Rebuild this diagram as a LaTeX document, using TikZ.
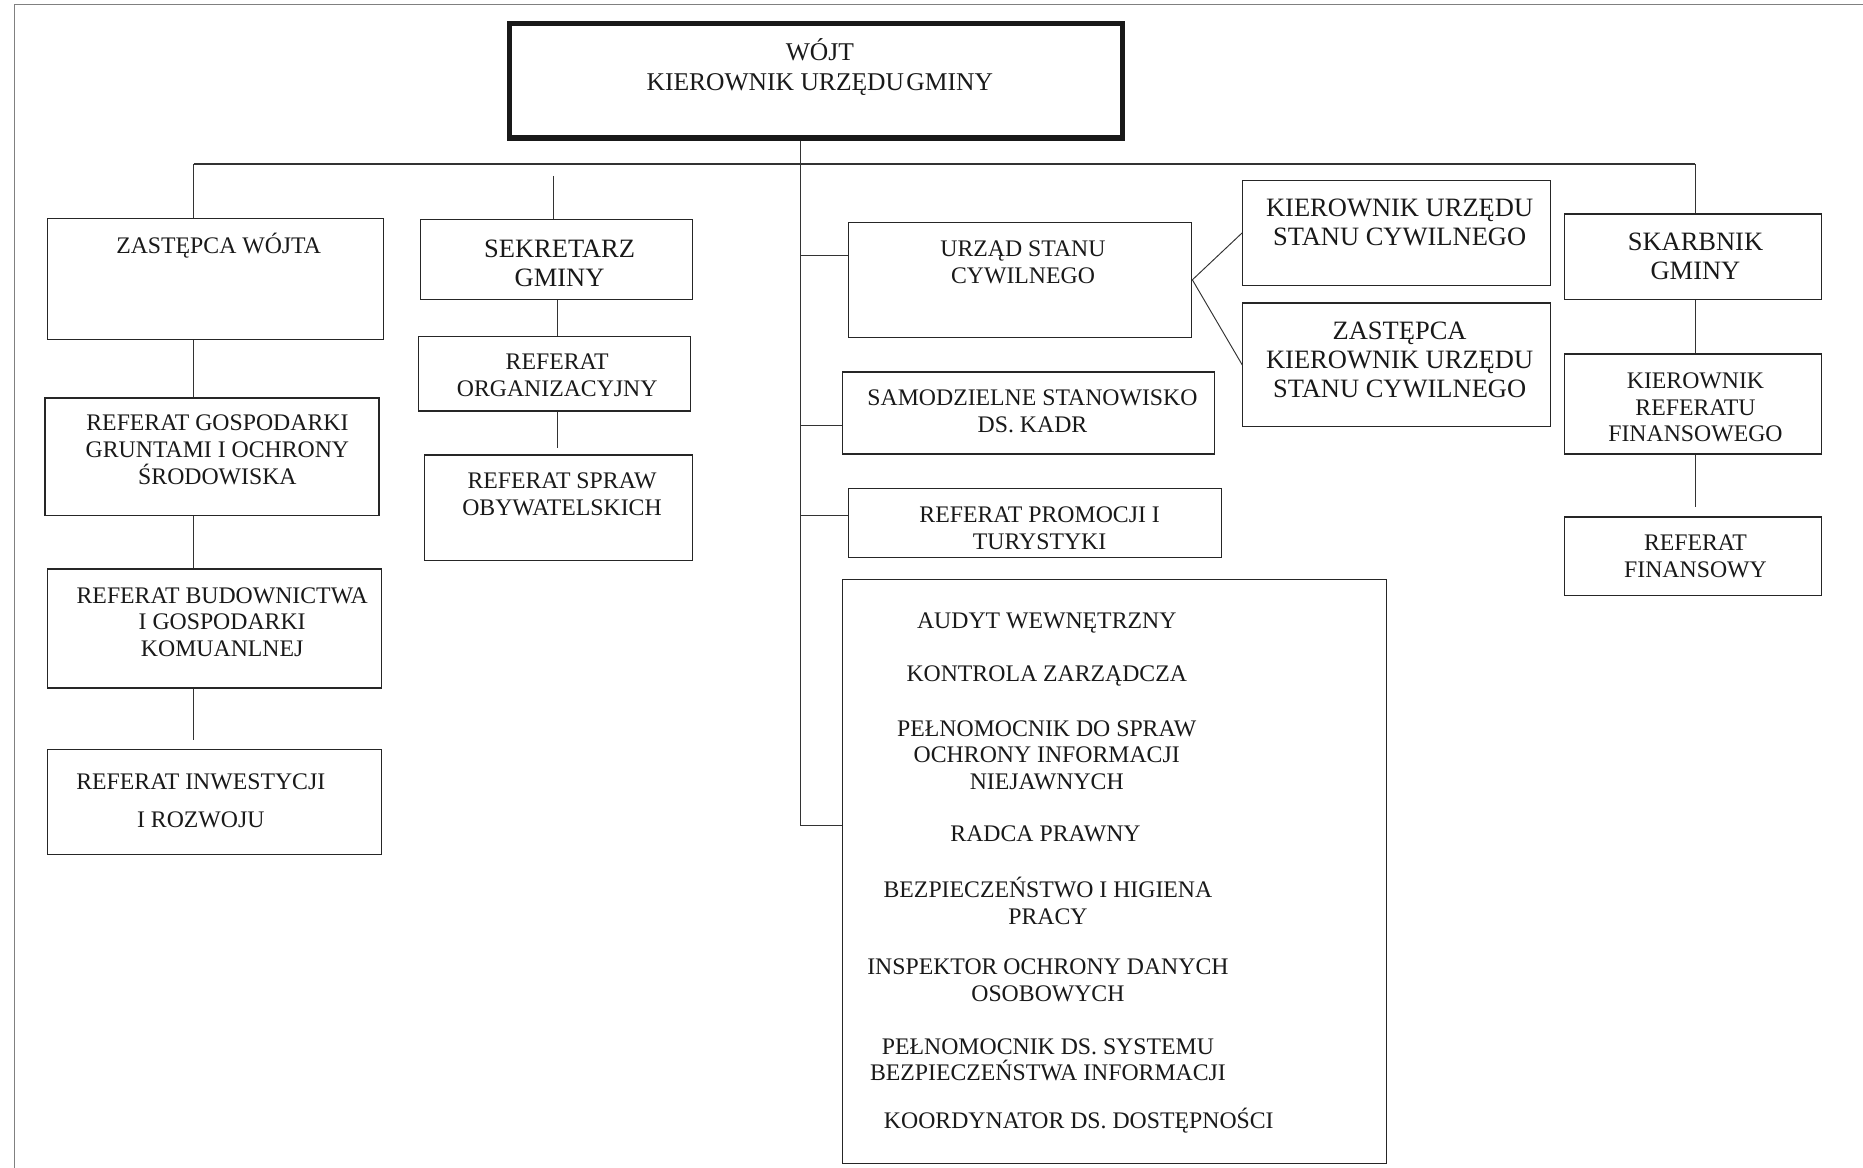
\documentclass[tikz,border=0pt]{standalone}
\usepackage{fontspec}
\setmainfont{Liberation Serif}
\begin{document}
\begin{tikzpicture}[x=1pt,y=-1pt,
  box/.style={draw=black!85, line width=1.1pt, inner sep=0pt},
  thickbox/.style={draw=black!90, line width=4.5pt, inner sep=0pt},
  conn/.style={draw=black!80, line width=1pt},
  frameline/.style={draw=black!50, line width=1.2pt},
  txt/.style={font=\fontsize{20}{22.5}\selectfont, align=center, inner sep=0pt, text=black!90},
  bigtxt/.style={font=\fontsize{22.3}{24.5}\selectfont, align=center, inner sep=0pt, text=black!90}]
\useasboundingbox (0,0) rectangle (1568,983);
% page frame
\coordinate (fr-tl) at (12,4);
\coordinate (fr-tr) at (1568,4);
\coordinate (fr-bl) at (12,983);
\draw[frameline] (fr-tr) -- (fr-tl) -- (fr-bl);

% top box
\node[thickbox, minimum width=516pt, minimum height=96pt] (wojt) at (687,68) {};
\node[txt, font=\fontsize{21.5}{25}\selectfont] (wojt-t) at (690,56.5) {WÓJT\\KIEROWNIK URZĘDU\hspace{2pt}GMINY};

% left column
\node[box, minimum width=283pt, minimum height=102pt] (zw) at (181.5,235) {};
\node[txt] (zw-t) at (184,207) {ZASTĘPCA WÓJTA};
\node[box, minimum width=281pt, minimum height=99pt] (rg) at (178.5,384.5) {};
\node[txt] (rg-t) at (183,378.5) {REFERAT GOSPODARKI\\GRUNTAMI I OCHRONY\\ŚRODOWISKA};
\node[box, minimum width=281pt, minimum height=100pt] (rb) at (180.5,529) {};
\node[txt] (rb-t) at (187,523.5) {REFERAT BUDOWNICTWA\\I GOSPODARKI\\KOMUANLNEJ};
\node[box, minimum width=281pt, minimum height=88pt] (ri) at (180.5,675) {};
\node[txt] (ri-t) at (169,674) {REFERAT INWESTYCJI\\[9.5pt]I ROZWOJU};

% second column
\node[box, minimum width=229pt, minimum height=67pt] (sek) at (468.5,218.5) {};
\node[bigtxt] (sek-t) at (471,221.5) {SEKRETARZ\\GMINY};
\node[box, minimum width=229pt, minimum height=63pt] (ro) at (466.5,314.5) {};
\node[txt] (ro-t) at (469,316) {REFERAT\\ORGANIZACYJNY};
\node[box, minimum width=226pt, minimum height=89pt] (rs) at (470,427.5) {};
\node[txt] (rs-t) at (473,416) {REFERAT SPRAW\\OBYWATELSKICH};

% centre column
\node[box, minimum width=289pt, minimum height=97pt] (usc) at (858.5,235.5) {};
\node[txt] (usc-t) at (861,221) {URZĄD STANU\\CYWILNEGO};
\node[box, minimum width=259pt, minimum height=88pt] (kusc) at (1175.5,196) {};
\node[bigtxt] (kusc-t) at (1178,187.5) {KIEROWNIK URZĘDU\\STANU CYWILNEGO};
\node[box, minimum width=259pt, minimum height=104pt] (zkusc) at (1175.5,307) {};
\node[bigtxt] (zkusc-t) at (1178,303) {ZASTĘPCA\\KIEROWNIK URZĘDU\\STANU CYWILNEGO};
\node[box, minimum width=313pt, minimum height=69pt] (sam) at (865.5,347.5) {};
\node[txt] (sam-t) at (869,346) {SAMODZIELNE STANOWISKO\\DS. KADR};
\node[box, minimum width=314pt, minimum height=58pt] (promo) at (871,440) {};
\node[txt] (promo-t) at (875,444.5) {REFERAT PROMOCJI I\\TURYSTYKI};
\node[box, minimum width=458pt, minimum height=491pt] (audit) at (938,733.5) {};
\node[txt] (a1) at (881,524) {AUDYT WEWNĘTRZNY};
\node[txt] (a2) at (881,569) {KONTROLA ZARZĄDCZA};
\node[txt] (a3) at (881,635.5) {PEŁNOMOCNIK DO SPRAW\\OCHRONY INFORMACJI\\NIEJAWNYCH};
\node[txt] (a4) at (880,702) {RADCA PRAWNY};
\node[txt] (a5) at (882,758) {BEZPIECZEŃSTWO I HIGIENA\\PRACY};
\node[txt] (a6) at (882,825) {INSPEKTOR OCHRONY DANYCH\\OSOBOWYCH};
\node[txt] (a7) at (882,892) {PEŁNOMOCNIK DS. SYSTEMU\\BEZPIECZEŃSTWA INFORMACJI};
\node[txt] (a8) at (908,943) {KOORDYNATOR DS. DOSTĘPNOŚCI};

% right column
\node[box, minimum width=216pt, minimum height=72pt] (skarb) at (1425,216) {};
\node[bigtxt] (skarb-t) at (1427,215.5) {SKARBNIK\\GMINY};
\node[box, minimum width=216pt, minimum height=84pt] (krf) at (1425,340) {};
\node[txt] (krf-t) at (1427,343) {KIEROWNIK\\REFERATU\\FINANSOWEGO};
\node[box, minimum width=216pt, minimum height=66pt] (rf) at (1425,468) {};
\node[txt] (rf-t) at (1427,468) {REFERAT\\FINANSOWY};

% connectors
\coordinate (bus-c) at (674,138);
\coordinate (bus-l) at (163,138);
\coordinate (bus-r) at (1427,138);
\coordinate (spine-end) at (674,695);
\draw[conn] (wojt.south -| bus-c) -- (spine-end);
\draw[conn] (bus-l) -- (bus-r);
\draw[conn] (bus-l) -- (bus-l |- zw.north);
\draw[conn] (bus-r) -- (bus-r |- skarb.north);
\coordinate (sek-top) at (466,148);
\draw[conn] (sek-top) -- (sek-top |- sek.north);
% left column chain
\draw[conn] (bus-l |- zw.south) -- (bus-l |- rg.north);
\draw[conn] (bus-l |- rg.south) -- (bus-l |- rb.north);
\coordinate (ri-top) at (163,623);
\draw[conn] (bus-l |- rb.south) -- (ri-top);
% second column chain
\coordinate (col2) at (469,0);
\draw[conn] (col2 |- sek.south) -- (col2 |- ro.north);
\coordinate (rs-top) at (469,377);
\draw[conn] (col2 |- ro.south) -- (rs-top);
% centre stubs
\coordinate (st1) at (674,215);
\coordinate (st2) at (674,358);
\coordinate (st3) at (674,434);
\draw[conn] (st1) -- (st1 -| usc.west);
\draw[conn] (st2) -- (st2 -| sam.west);
\draw[conn] (st3) -- (st3 -| promo.west);
\draw[conn] (spine-end) -- (spine-end -| audit.west);
\draw[conn, line width=0.8pt] (usc.east) -- (kusc.west);
\draw[conn, line width=0.8pt] (usc.east) -- (zkusc.west);
% right column chain
\draw[conn] (bus-r |- skarb.south) -- (bus-r |- krf.north);
\coordinate (rf-top) at (1427,427);
\draw[conn] (bus-r |- krf.south) -- (rf-top);
\end{tikzpicture}
\end{document}
